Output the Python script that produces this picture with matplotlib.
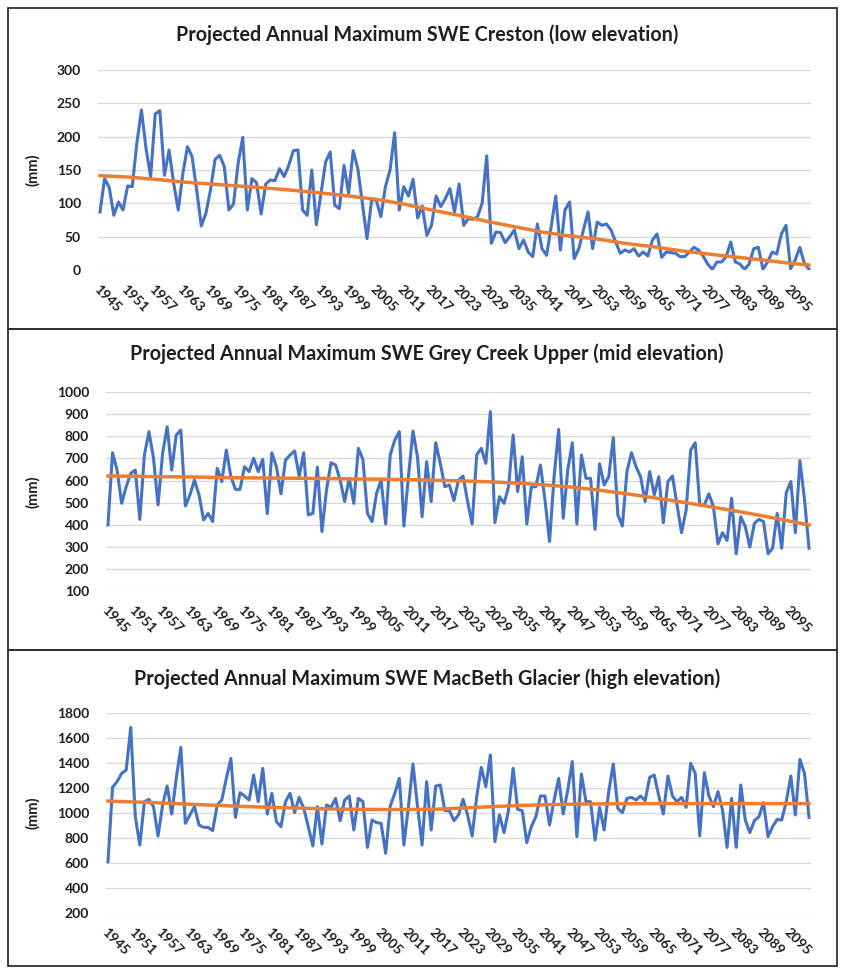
import numpy as np
import matplotlib
matplotlib.use("Agg")
import matplotlib.pyplot as plt
from matplotlib.patches import Rectangle

# ── data (annual maximum SWE, mm) ────────────────────────────────────────────
years = list(range(1945, 2100))

creston = [87, 137, 124, 82, 102, 90, 126, 125, 190, 240,
           182, 140, 234, 239, 142, 180, 130, 90, 145, 185,
           170, 120, 66, 85, 120, 166, 172, 155, 90, 99,
           160, 199, 90, 137, 131, 84, 129, 135, 134, 152,
           140, 157, 179, 180, 90, 82, 150, 68, 115, 162,
           177, 97, 92, 157, 115, 179, 152, 100, 47, 105,
           105, 80, 125, 150, 206, 90, 125, 111, 136, 78,
           96, 52, 67, 111, 95, 107, 122, 87, 129, 67,
           77, 76, 80, 100, 171, 40, 57, 56, 41, 50,
           60, 32, 45, 27, 20, 69, 32, 22, 65, 111,
           30, 90, 102, 17, 32, 60, 87, 32, 72, 67,
           69, 60, 42, 25, 30, 27, 32, 21, 27, 21,
           45, 54, 19, 27, 26, 25, 20, 20, 27, 34,
           30, 21, 9, 1, 12, 12, 20, 42, 12, 9,
           1, 9, 32, 34, 1, 12, 27, 24, 54, 67,
           2, 15, 34, 10, 1]

grey_creek = [400, 725, 647, 497, 572, 632, 647, 425, 715, 820,
              700, 490, 722, 842, 647, 805, 827, 485, 535, 602,
              535, 422, 452, 415, 655, 595, 737, 617, 560, 560,
              662, 640, 700, 640, 695, 450, 725, 662, 540, 692,
              715, 733, 620, 725, 445, 452, 660, 370, 557, 680,
              670, 602, 505, 610, 497, 745, 695, 452, 415, 542,
              602, 404, 715, 782, 820, 395, 617, 823, 705, 437,
              685, 505, 770, 677, 572, 580, 510, 602, 620, 505,
              404, 715, 745, 677, 910, 410, 527, 497, 572, 805,
              550, 707, 404, 572, 572, 670, 512, 325, 617, 830,
              430, 647, 770, 404, 715, 610, 610, 380, 675, 580,
              617, 793, 445, 395, 640, 725, 662, 617, 505, 640,
              535, 617, 410, 595, 620, 490, 365, 467, 737, 770,
              490, 490, 540, 482, 314, 365, 330, 520, 270, 437,
              392, 300, 407, 425, 415, 270, 295, 452, 295, 545,
              595, 365, 690, 515, 295]

macbeth = [610, 1205, 1251, 1317, 1344, 1685, 971, 744, 1091, 1109,
           1051, 816, 1064, 1216, 992, 1277, 1525, 917, 984, 1051,
           904, 885, 885, 859, 1064, 1104, 1277, 1437, 965, 1163,
           1136, 1104, 1304, 1091, 1357, 992, 1157, 931, 891, 1091,
           1157, 1003, 1125, 1037, 891, 736, 1051, 752, 1064, 1045,
           1117, 939, 1104, 1136, 864, 1117, 1091, 725, 944, 923,
           917, 677, 1056, 1157, 1277, 744, 1051, 1392, 1051, 744,
           1251, 864, 1216, 1224, 1019, 1019, 939, 984, 1109, 984,
           816, 1131, 1365, 1211, 1464, 771, 984, 843, 1024, 1357,
           1029, 1019, 763, 891, 971, 1136, 1136, 904, 1104, 1277,
           992, 1184, 1411, 811, 1312, 1091, 1091, 784, 1045, 864,
           1171, 1392, 1037, 1003, 1117, 1125, 1104, 1136, 1099, 1285,
           1304, 1136, 992, 1296, 1136, 1091, 1125, 1045, 1397, 1317,
           816, 1323, 1136, 1051, 1171, 1024, 725, 1117, 725, 1224,
           944, 843, 939, 971, 1083, 811, 891, 949, 944, 1091,
           1296, 984, 1429, 1317, 965]

# trendline values (every 6th year, plus the last year)
trend_years = list(range(1945, 2100, 6)) + [2099]
creston_trend = [141.5, 139.5, 136, 132, 129, 126, 123, 119.5, 115.5, 111,
                 106, 99, 90, 82, 73, 65, 57, 51, 46.5, 40,
                 35, 29, 24, 19.5, 15, 10, 7.5]
grey_creek_trend = [620, 619, 617, 616, 614, 612, 611, 610, 609, 607,
                    606, 604, 601, 598, 594, 588, 580, 570, 556, 540,
                    522, 503, 483, 462, 440, 416, 400]
macbeth_trend = [1095, 1088, 1080, 1070, 1061, 1052, 1045, 1039, 1033, 1030,
                 1028, 1028, 1030, 1040, 1050, 1060, 1066, 1071, 1073, 1074,
                 1075, 1075, 1075, 1075, 1075, 1075, 1075]

titles = ["Projected Annual Maximum SWE Creston (low elevation)",
          "Projected Annual Maximum SWE Grey Creek Upper (mid elevation)",
          "Projected Annual Maximum SWE MacBeth Glacier (high elevation)"]

# ── style ────────────────────────────────────────────────────────────────────
plt.rcParams["font.family"] = ["Lato", "DejaVu Sans"]
C_LINE = "#4472C4"
C_TREND = "#ED7D31"
C_GRID = "#D9D9D9"
C_TEXT = "#1F1F1F"

W, H = 841, 968
fig = plt.figure(figsize=(W / 100, H / 100), dpi=100)
fig.patch.set_facecolor("white")


def px_rect(x0, y0, x1, y1):
    # pixel box (top-left origin) -> figure fraction [l, b, w, h]
    return [x0 / W, 1 - y1 / H, (x1 - x0) / W, (y1 - y0) / H]


panels = [
    dict(data=creston, trend=creston_trend, ylim=(0, 300), step=50,
         plot=(97.7, 70, 811.3, 270), frame=(8, 8, 837, 329), title_y=35),
    dict(data=grey_creek, trend=grey_creek_trend, ylim=(100, 1000), step=100,
         plot=(105.7, 391.7, 811.3, 591.5), frame=(8, 329, 837, 650), title_y=354),
    dict(data=macbeth, trend=macbeth_trend, ylim=(200, 1800), step=200,
         plot=(105.7, 713, 811.3, 913), frame=(8, 650, 837, 966), title_y=679),
]

idx = np.arange(len(years))
trend_idx = [years.index(y) for y in trend_years]

for p, title in zip(panels, titles):
    # chart frame
    x0, y0, x1, y1 = p["frame"]
    fig.add_artist(Rectangle((x0 / W, 1 - y1 / H), (x1 - x0) / W, (y1 - y0) / H,
                             transform=fig.transFigure, facecolor="none",
                             edgecolor="#303030", linewidth=1.3))

    ax = fig.add_axes(px_rect(*p["plot"]))
    ax.plot(idx, p["data"], color=C_LINE, linewidth=2.2, solid_joinstyle="round", zorder=3)
    ax.plot(trend_idx, p["trend"], color=C_TREND, linewidth=2.5,
            solid_joinstyle="round", zorder=4)

    lo, hi = p["ylim"]
    ax.set_ylim(lo, hi)
    ax.set_yticks(np.arange(lo, hi + 1, p["step"]))
    ax.set_xlim(-0.5, len(years) - 0.5)
    ax.set_xticks(idx[::6])
    ax.set_xticklabels([str(y) for y in years[::6]], rotation=-45,
                       ha="left", va="top", rotation_mode="anchor")

    ax.grid(axis="y", color=C_GRID, linewidth=1.0, zorder=0)
    ax.set_axisbelow(True)
    for s in ax.spines.values():
        s.set_visible(False)
    ax.tick_params(axis="both", length=0, labelsize=10, colors=C_TEXT)
    ax.tick_params(axis="y", pad=12)
    ax.tick_params(axis="x", pad=9)
    for lab in ax.get_xticklabels() + ax.get_yticklabels():
        lab.set_fontweight("bold")

    # title and y-axis label
    fig.text(0.5 * (x0 + x1) / W + 0.005, 1 - p["title_y"] / H, title,
             ha="center", va="center", fontsize=14.2, fontweight="bold", color=C_TEXT)
    py0, py1 = p["plot"][1], p["plot"][3]
    fig.text(33 / W, 1 - 0.5 * (py0 + py1) / H, "(mm)", rotation=90,
             ha="center", va="center", fontsize=10.5, fontweight="bold", color=C_TEXT)

fig.savefig("out.png", dpi=100, facecolor="white")
